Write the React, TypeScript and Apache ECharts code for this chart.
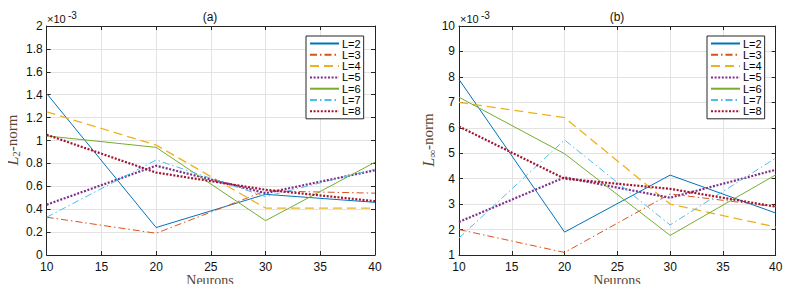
import React, { useEffect, useRef } from "react";
import * as echarts from "echarts";

const neurons = [10, 20, 30, 40];
const seriesNames = ["L=2", "L=3", "L=4", "L=5", "L=6", "L=7", "L=8"];
// Panel (a): L2-norm, in units of 1e-3
const l2Norm = [
  [1.41, 0.24, 0.53, 0.46],
  [0.33, 0.19, 0.56, 0.54],
  [1.25, 0.96, 0.41, 0.41],
  [0.44, 0.78, 0.54, 0.74],
  [1.04, 0.94, 0.3, 0.81],
  [0.33, 0.83, 0.51, 0.75],
  [1.05, 0.72, 0.57, 0.47],
];
// Panel (b): L-infinity norm, in units of 1e-3
const lInfNorm = [
  [7.9, 1.9, 4.14, 2.65],
  [2.0, 1.1, 3.4, 2.9],
  [7.0, 6.4, 3.0, 2.1],
  [2.3, 4.05, 3.25, 4.35],
  [7.2, 4.98, 1.77, 4.15],
  [1.67, 5.52, 2.18, 4.81],
  [6.05, 4.0, 3.6, 2.9],
];
const colors = ["#0072BD", "#D95319", "#EDB120", "#7E2F8E", "#77AC30", "#4DBEEE", "#A2142F"];
const dashTypes: any[] = ["solid", [7, 3, 1.5, 3], [9, 5], [2, 1.6], "solid", [7, 3, 1.5, 3], [2, 1.6]];
const widths = [1, 1, 1.3, 2.2, 1, 1, 2.2];

const axisColor = "#262626";
const labelColor = "#5a4535";
const sans = "Liberation Sans, Arial, sans-serif";
const serif = "Liberation Serif, Times New Roman, serif";

export default function App() {
  const ref = useRef<HTMLDivElement>(null);
  useEffect(() => {
    const chart = echarts.init(ref.current!, undefined, { renderer: "svg" });
    const grids = [
      { left: 46.7, right: 420, top: 26, bottom: 37 },
      { left: 459, right: 19.3, top: 26, bottom: 37 },
    ];
    const xBase = (gi: number, top: boolean) => ({
      type: "value",
      gridIndex: gi,
      position: top ? "top" : "bottom",
      min: 10,
      max: 40,
      interval: 5,
      axisLine: { show: true, onZero: false, lineStyle: { color: axisColor, width: 1 } },
      axisTick: { show: true, inside: true, length: 4, lineStyle: { color: axisColor } },
      axisLabel: { show: !top, color: "#111", fontSize: 12, fontFamily: sans, margin: 6 },
      splitLine: { show: !top, lineStyle: { color: "#e3e3e3", width: 1 } },
    });
    const yBase = (gi: number, right: boolean, min: number, max: number, interval: number) => ({
      type: "value",
      gridIndex: gi,
      position: right ? "right" : "left",
      min,
      max,
      interval,
      axisLine: { show: true, onZero: false, lineStyle: { color: axisColor, width: 1 } },
      axisTick: { show: true, inside: true, length: 4, lineStyle: { color: axisColor } },
      axisLabel: { show: !right, color: "#111", fontSize: 12, fontFamily: sans, margin: 4 },
      splitLine: { show: !right, lineStyle: { color: "#e3e3e3", width: 1 } },
    });
    const mk = (data: number[][], xi: number, yi: number) =>
      data.map((vals, i) => ({
        name: seriesNames[i],
        type: "line",
        xAxisIndex: xi,
        yAxisIndex: yi,
        symbol: "none",
        data: neurons.map((n, k) => [n, vals[k]]),
        lineStyle: { color: colors[i], type: dashTypes[i], width: widths[i] },
        itemStyle: { color: colors[i] },
      }));
    const legendBase = (left: number, top: number) => ({
      orient: "vertical",
      left,
      top,
      data: seriesNames,
      backgroundColor: "#fff",
      borderColor: axisColor,
      borderWidth: 1,
      borderRadius: 0,
      padding: [2, 3, 2, 3],
      itemWidth: 29,
      itemHeight: 9,
      itemGap: 0.3,
      selectedMode: false,
      itemStyle: { color: "rgba(0,0,0,0)", borderColor: "rgba(0,0,0,0)", borderWidth: 0, opacity: 0 },
      textStyle: { fontSize: 11, fontFamily: sans, color: "#000", padding: [0, 0, 0, -2] },
    });
    const yLabel = (x: number, sub: string) => ({
      type: "text",
      x,
      y: 140,
      rotation: Math.PI / 2,
      style: {
        text: `{i|L}{s|${sub}}{n|-norm}`,
        align: "center",
        verticalAlign: "middle",
        fill: labelColor,
        rich: {
          i: { fontFamily: serif, fontStyle: "italic", fontSize: 16, fill: labelColor, lineHeight: 18 },
          s: { fontFamily: serif, fontSize: 11, fill: labelColor, lineHeight: 11, verticalAlign: "bottom", padding: [6, 0, 0, 0] },
          n: { fontFamily: serif, fontSize: 15, fill: labelColor, lineHeight: 18 },
        },
      },
    });
    const expLabel = (x: number) => [
      { type: "text", x, y: 24, style: { text: "×10", font: `11px ${sans}`, fill: "#111", textVerticalAlign: "bottom" } },
      { type: "text", x: x + 21, y: 20, style: { text: "-3", font: `10px ${sans}`, fill: "#111", textVerticalAlign: "bottom" } },
    ];
    const textAt = (x: number, y: number, text: string, font: string, fill: string) => ({
      type: "text",
      x,
      y,
      style: { text, font, fill, align: "center", verticalAlign: "middle" },
    });
    chart.setOption({
      animation: false,
      grid: grids.map((g) => ({ ...g, containLabel: false })),
      xAxis: [xBase(0, false), xBase(1, false), xBase(0, true), xBase(1, true)],
      yAxis: [
        yBase(0, false, 0, 2, 0.2),
        yBase(1, false, 1, 10, 1),
        yBase(0, true, 0, 2, 0.2),
        yBase(1, true, 1, 10, 1),
      ],
      legend: [legendBase(306, 36), legendBase(707, 36)],
      series: [...mk(l2Norm, 0, 0), ...mk(lInfNorm, 1, 1)],
      graphic: [
        textAt(210, 17, "(a)", `12px ${sans}`, "#111"),
        textAt(617, 17, "(b)", `12px ${sans}`, "#111"),
        textAt(210, 280, "Neurons", `14px ${serif}`, labelColor),
        textAt(617, 280, "Neurons", `14px ${serif}`, labelColor),
        yLabel(12, "2"),
        yLabel(428, "∞"),
        ...expLabel(47),
        ...expLabel(460),
      ],
    });
    return () => chart.dispose();
  }, []);
  return <div ref={ref} style={{ width: 795, height: 292, margin: -8 }} />;
}
